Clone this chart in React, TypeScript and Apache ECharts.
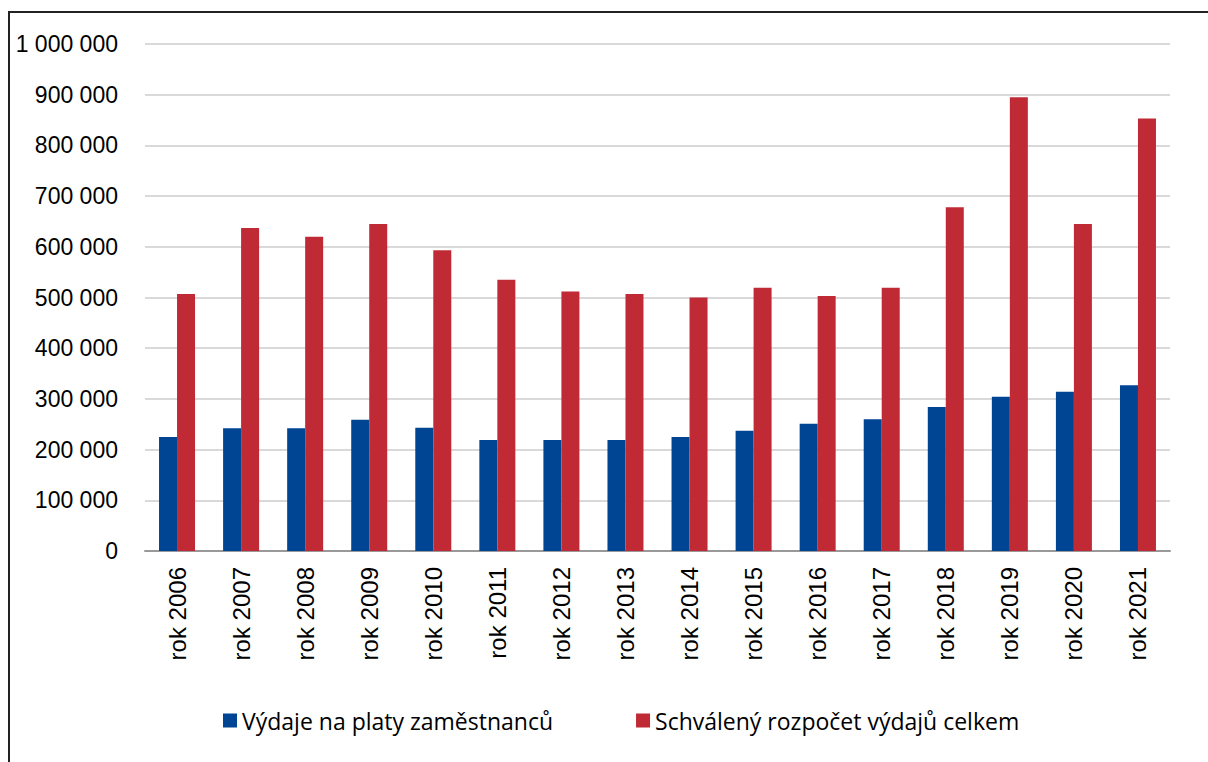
import React, { useEffect, useRef } from "react";
import * as echarts from "echarts";

const categories = [
  "rok 2006", "rok 2007", "rok 2008", "rok 2009", "rok 2010", "rok 2011", "rok 2012", "rok 2013",
  "rok 2014", "rok 2015", "rok 2016", "rok 2017", "rok 2018", "rok 2019", "rok 2020", "rok 2021",
];
const platy = [
  225000, 242000, 242000, 259000, 243000, 219000, 219000, 219000,
  225000, 237000, 251000, 260000, 284000, 304000, 314000, 327000,
];
const rozpocet = [
  507000, 637000, 620000, 645000, 593000, 535000, 512000, 507000,
  500000, 519000, 503000, 519000, 678000, 895000, 645000, 853000,
];
const seriesNames = ["Výdaje na platy zaměstnanců", "Schválený rozpočet výdajů celkem"];

const fmt = (v: number) => String(v).replace(/\B(?=(\d{3})+(?!\d))/g, " ");

export default function App() {
  const ref = useRef<HTMLDivElement>(null);
  useEffect(() => {
    const chart = echarts.init(ref.current!, null, { renderer: "svg" });
    chart.setOption({
      animation: false,
      backgroundColor: "#ffffff",
      grid: { left: 145, right: 38, top: 44, bottom: 211 },
      graphic: [
        { type: "line", shape: { x1: 9, y1: 12, x2: 9, y2: 762 }, style: { stroke: "#222", lineWidth: 2 } },
        { type: "line", shape: { x1: 8, y1: 12, x2: 1208, y2: 12 }, style: { stroke: "#222", lineWidth: 2 } },
      ],
      legend: {
        left: 218,
        top: 704,
        itemWidth: 14,
        itemHeight: 14,
        itemGap: 83,
        icon: "rect",
        textStyle: { fontFamily: "Open Sans", fontSize: 23, color: "#000" },
        data: seriesNames,
      },
      xAxis: {
        type: "category",
        data: categories,
        axisTick: { show: false },
        axisLine: { lineStyle: { color: "#999", width: 2 } },
        axisLabel: {
          rotate: 90,
          margin: 16,
          fontFamily: "Liberation Sans",
          fontSize: 24,
          color: "#000",
        },
      },
      yAxis: {
        type: "value",
        min: 0,
        max: 1000000,
        interval: 100000,
        axisLine: { show: false },
        axisTick: { show: false },
        splitLine: { lineStyle: { color: "#d9d9d9", width: 2 } },
        axisLabel: {
          margin: 27,
          fontFamily: "Liberation Sans",
          fontSize: 23,
          color: "#000",
          formatter: (v: number) => fmt(v),
        },
      },
      series: [
        {
          name: seriesNames[0],
          type: "bar",
          data: platy,
          barWidth: 18,
          barGap: "0%",
          itemStyle: { color: "#004494" },
        },
        {
          name: seriesNames[1],
          type: "bar",
          data: rozpocet,
          barWidth: 18,
          barGap: "0%",
          itemStyle: { color: "#C02A35" },
        },
      ],
    });
    return () => chart.dispose();
  }, []);
  return (
    <div
      ref={ref}
      style={{ position: "fixed", left: 0, top: 0, width: 1208, height: 762 }}
    />
  );
}
